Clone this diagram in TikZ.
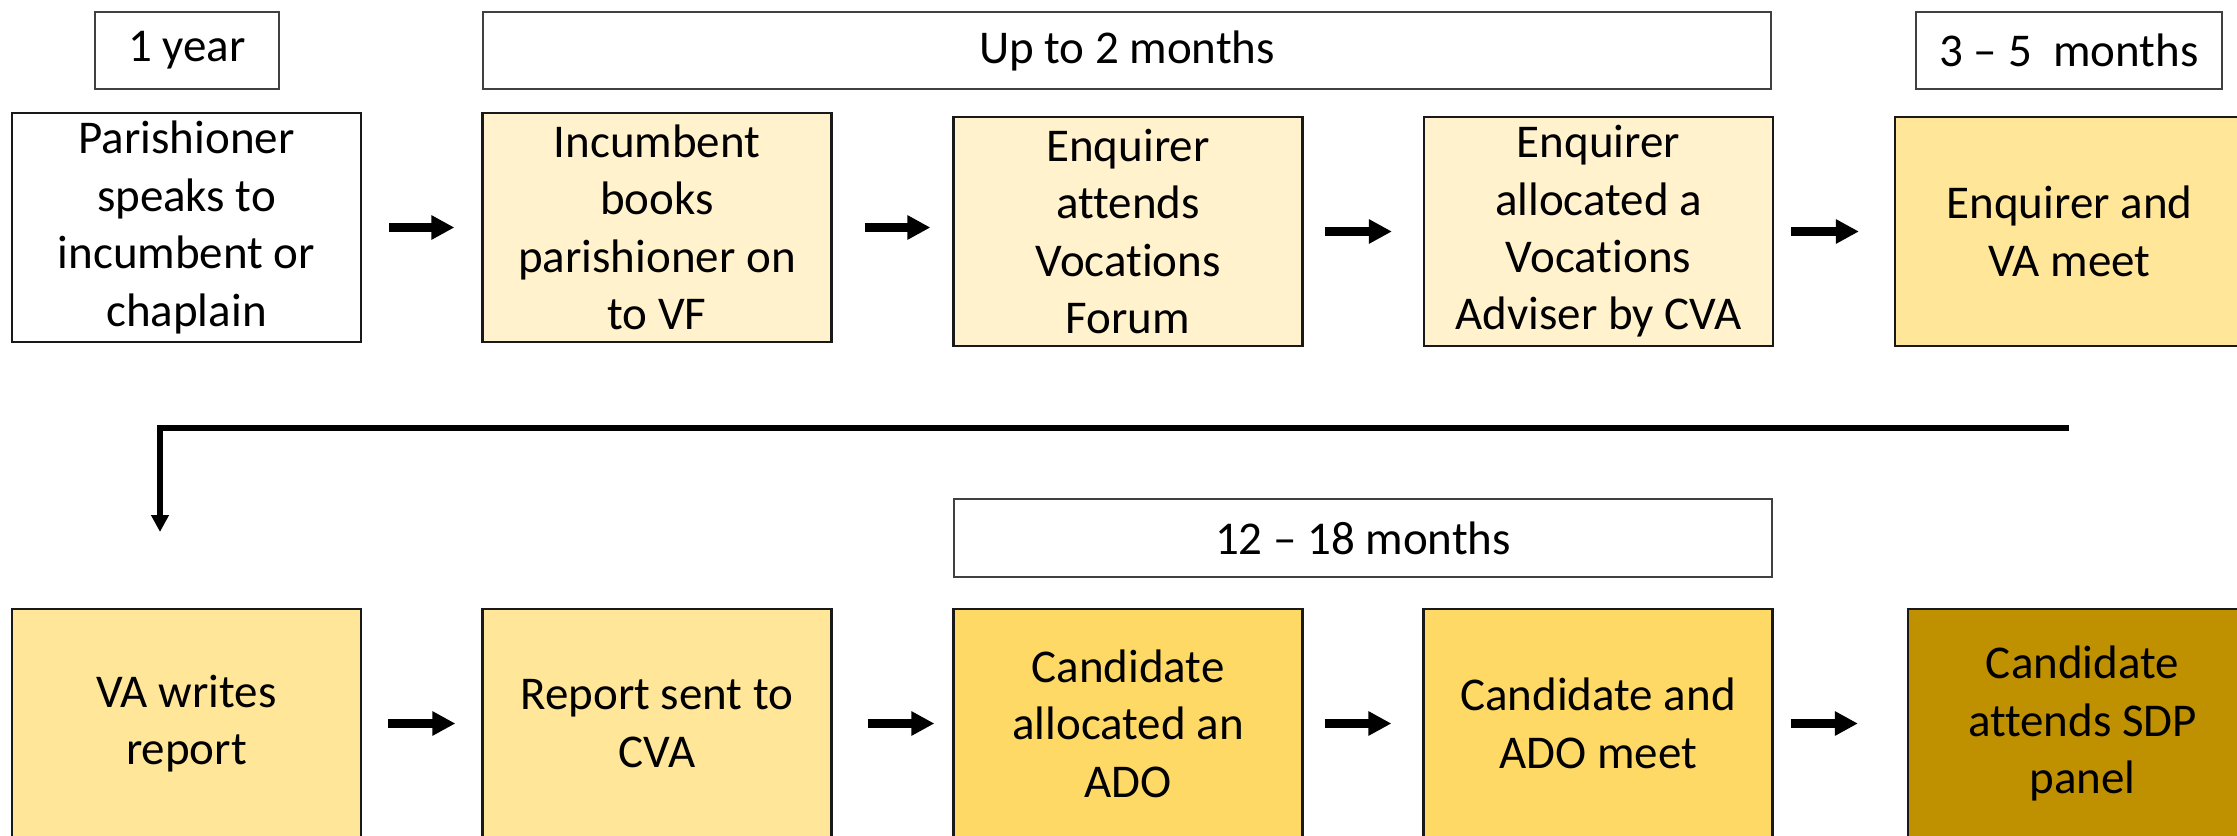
\documentclass[tikz,border=0pt]{standalone}
\usepackage{fontspec}
\setmainfont{Carlito}[Ligatures=CommonOff]
\usetikzlibrary{arrows.meta}
\definecolor{cream}{HTML}{FFF2CC}
\definecolor{goldA}{HTML}{FFE699}
\definecolor{goldB}{HTML}{FFD966}
\definecolor{goldC}{HTML}{BF9000}
\begin{document}
\begin{tikzpicture}[x=0.5pt,y=-0.5pt,
  stepbox/.style={draw=black!90, line width=1.1pt, minimum width=174.5pt, minimum height=114.5pt, inner sep=0pt, align=center, font=\fontsize{23.5}{28.7}\selectfont},
  timebox/.style={draw=black!75, line width=0.8pt, fill=white, minimum height=38.5pt, inner sep=0pt, align=center, font=\fontsize{23.5}{28.7}\selectfont},
  flow/.style={line width=4.5pt, -{Triangle[length=11.5pt,width=11.5pt]}},
  turn/.style={line width=3.2pt, -{Triangle[length=8.5pt,width=8.5pt]}}]
\useasboundingbox (0,0) rectangle (2237,835);
\clip (0,0) rectangle (2237,835);
\fill[white] (0,0) rectangle (2237,835);

% time labels
\node[timebox, minimum width=92pt] (t1) at (187,50.5) {\raisebox{-1pt}{1 year}};
\node[timebox, minimum width=644pt] (t2) at (1127,50.5) {\raisebox{-1pt}{Up to 2 months}};
\node[timebox, minimum width=153pt] (t3) at (2069,50.5) {\raisebox{-1pt}{3 – 5\ \ months}};
\node[timebox, minimum width=409pt, minimum height=39pt] (t4) at (1363,538) {12 – 18 months};

% top row
\node[stepbox, fill=white] (b1) at (186.5,227.5) {Parishioner\\speaks to\\incumbent or\\chaplain};
\node[stepbox, fill=cream] (b2) at (657,227.5) {Incumbent\\books\\parishioner on\\to VF};
\node[stepbox, fill=cream] (b3) at (1128,231.5) {Enquirer\\attends\\Vocations\\Forum};
\node[stepbox, fill=cream] (b4) at (1598.5,231.5) {Enquirer\\allocated a\\Vocations\\Adviser by CVA};
\node[stepbox, fill=goldA] (b5) at (2069.5,231.5) {Enquirer and\\VA meet};

% bottom row
\node[stepbox, fill=goldA] (c1) at (186.5,723.5) {VA writes\\report};
\node[stepbox, fill=goldA] (c2) at (657,723.5) {Report sent to\\CVA};
\node[stepbox, fill=goldB] (c3) at (1128,723.5) {Candidate\\allocated an\\ADO};
\node[stepbox, fill=goldB] (c4) at (1598,723.5) {Candidate and\\ADO meet};
\node[stepbox, fill=goldC] (c5) at (2082.5,723.5) {Candidate\\attends SDP\\panel};

% arrows top
\draw[flow, shorten <=13.5pt, shorten >=13.5pt] (b1.east) -- (b2.west);
\draw[flow, shorten <=16pt, shorten >=11pt] (b2.east) -- (b2.east -| b3.west);
\draw[flow, shorten <=10.5pt, shorten >=15.5pt] (b3.east) -- (b4.west);
\draw[flow, shorten <=8.5pt, shorten >=17.5pt] (b4.east) -- (b5.west);

% arrows bottom
\draw[flow, shorten <=13pt, shorten >=13pt] (c1.east) -- (c2.west);
\draw[flow, shorten <=17.5pt, shorten >=9pt] (c2.east) -- (c3.west);
\draw[flow, shorten <=10.5pt, shorten >=15.5pt] (c3.east) -- (c4.west);
\draw[flow, shorten <=8.5pt, shorten >=24.5pt] (c4.east) -- (c5.west);

% return connector
\coordinate (turnStart) at (2069,428);
\coordinate (turnEnd) at (160,532);
\draw[turn] (turnStart) -| (turnEnd);
\end{tikzpicture}
\end{document}
